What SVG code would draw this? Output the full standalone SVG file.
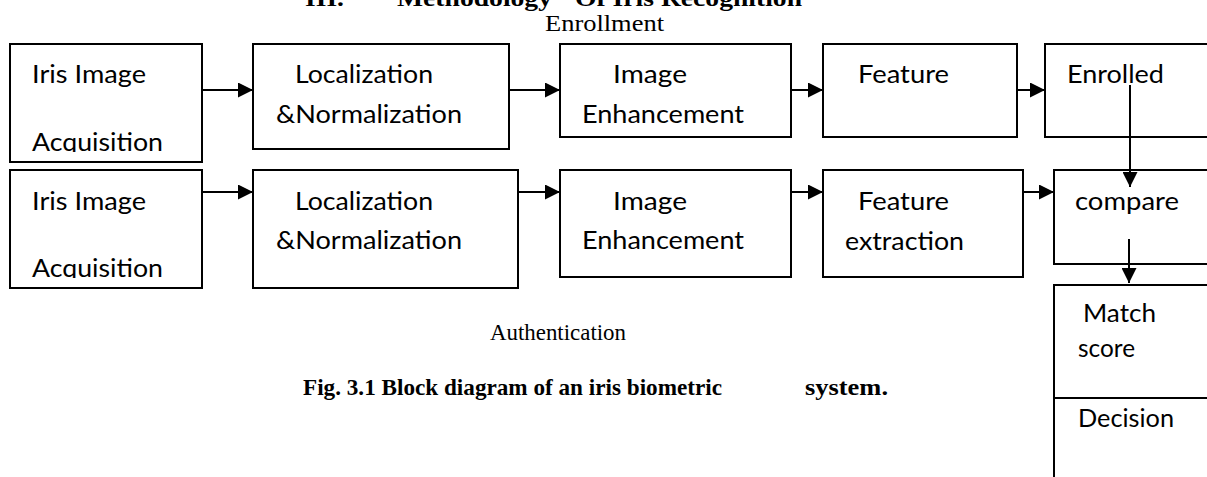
<svg xmlns="http://www.w3.org/2000/svg" width="1207" height="477" viewBox="0 0 1207 477">
<style>
.box{fill:#fff;stroke:#000;stroke-width:2}
.t{font-family:Lato,"Open Sans","Liberation Sans",sans-serif;font-size:25px;fill:#000}
.s{font-family:"Liberation Serif","Times New Roman",serif;font-size:23px;fill:#000}
.b{font-family:"Liberation Serif","Times New Roman",serif;font-size:23px;font-weight:bold;fill:#000}
.c{stroke:#000;stroke-width:2;fill:none}
</style>
<defs>
<marker id="ah" markerUnits="userSpaceOnUse" markerWidth="16" markerHeight="15" refX="15" refY="7.5" orient="auto">
<path d="M0,0 L15,7.5 L0,15 z" fill="#000"/>
</marker>
<clipPath id="clip1"><rect x="0" y="0" width="1207" height="152"/></clipPath>
<clipPath id="clip2"><rect x="0" y="0" width="1207" height="278"/></clipPath>
</defs>
<rect width="1207" height="477" fill="#fff"/>
<g id="title">
<text class="b" x="305" y="6" textLength="39" lengthAdjust="spacingAndGlyphs">III.</text>
<text class="b" x="397" y="6" textLength="155" lengthAdjust="spacingAndGlyphs">Methodology</text>
<text class="b" x="575" y="6" textLength="227" lengthAdjust="spacingAndGlyphs">Of Iris Recognition</text>
</g>
<g id="label-enrollment"><text class="s" x="545" y="31" textLength="119" lengthAdjust="spacingAndGlyphs">Enrollment</text></g>
<g id="label-authentication"><text class="s" x="490" y="340" textLength="136" lengthAdjust="spacingAndGlyphs">Authentication</text></g>
<g id="caption">
<text class="b" x="303" y="395" textLength="419" lengthAdjust="spacingAndGlyphs">Fig. 3.1 Block diagram of an iris biometric</text>
<text class="b" x="805" y="395" textLength="83" lengthAdjust="spacingAndGlyphs">system.</text>
</g>

<g id="e-acq">
<rect class="box" x="10" y="44" width="192" height="118"/>
<text class="t" x="32" y="83" textLength="114" lengthAdjust="spacingAndGlyphs">Iris Image</text>
<text class="t" x="32" y="151" textLength="131" lengthAdjust="spacingAndGlyphs" clip-path="url(#clip1)">Acquisition</text>
</g>
<g id="e-loc">
<rect class="box" x="253" y="44" width="256" height="105"/>
<text class="t" x="295" y="83" textLength="138" lengthAdjust="spacingAndGlyphs">Localization</text>
<text class="t" x="276" y="123" textLength="186" lengthAdjust="spacingAndGlyphs">&amp;Normalization</text>
</g>
<g id="e-enh">
<rect class="box" x="560" y="44" width="231" height="93"/>
<text class="t" x="613" y="83" textLength="74" lengthAdjust="spacingAndGlyphs">Image</text>
<text class="t" x="582" y="123" textLength="162" lengthAdjust="spacingAndGlyphs">Enhancement</text>
</g>
<g id="e-feat">
<rect class="box" x="823" y="44" width="194" height="93"/>
<text class="t" x="858" y="83" textLength="91" lengthAdjust="spacingAndGlyphs">Feature</text>
</g>
<g id="e-enrolled">
<rect class="box" x="1045" y="44" width="180" height="93"/>
<text class="t" x="1067" y="83" textLength="97" lengthAdjust="spacingAndGlyphs">Enrolled</text>
</g>

<g id="a-acq">
<rect class="box" x="10" y="170" width="192" height="118"/>
<text class="t" x="32" y="210" textLength="114" lengthAdjust="spacingAndGlyphs">Iris Image</text>
<text class="t" x="32" y="277" textLength="131" lengthAdjust="spacingAndGlyphs" clip-path="url(#clip2)">Acquisition</text>
</g>
<g id="a-loc">
<rect class="box" x="253" y="170" width="265" height="118"/>
<text class="t" x="295" y="210" textLength="138" lengthAdjust="spacingAndGlyphs">Localization</text>
<text class="t" x="276" y="249" textLength="186" lengthAdjust="spacingAndGlyphs">&amp;Normalization</text>
</g>
<g id="a-enh">
<rect class="box" x="560" y="170" width="231" height="107"/>
<text class="t" x="613" y="210" textLength="74" lengthAdjust="spacingAndGlyphs">Image</text>
<text class="t" x="582" y="249" textLength="162" lengthAdjust="spacingAndGlyphs">Enhancement</text>
</g>
<g id="a-feat">
<rect class="box" x="823" y="170" width="200" height="107"/>
<text class="t" x="858" y="210" textLength="91" lengthAdjust="spacingAndGlyphs">Feature</text>
<text class="t" x="845" y="250" textLength="119" lengthAdjust="spacingAndGlyphs">extraction</text>
</g>
<g id="compare">
<rect class="box" x="1054" y="170" width="170" height="94"/>
<text class="t" x="1075" y="210" textLength="104" lengthAdjust="spacingAndGlyphs">compare</text>
</g>
<g id="match-score">
<rect class="box" x="1054" y="285" width="170" height="113"/>
<text class="t" x="1083" y="322" textLength="73" lengthAdjust="spacingAndGlyphs">Match</text>
<text class="t" x="1078" y="357" textLength="57" lengthAdjust="spacingAndGlyphs">score</text>
</g>
<g id="decision">
<rect class="box" x="1054" y="398" width="170" height="100"/>
<text class="t" x="1078" y="427" textLength="96" lengthAdjust="spacingAndGlyphs">Decision</text>
</g>

<g id="connectors">
<line class="c" x1="202" y1="90" x2="253" y2="90" marker-end="url(#ah)"/>
<line class="c" x1="509" y1="90" x2="560" y2="90" marker-end="url(#ah)"/>
<line class="c" x1="791" y1="90" x2="823" y2="90" marker-end="url(#ah)"/>
<line class="c" x1="1017" y1="90" x2="1045" y2="90" marker-end="url(#ah)"/>
<line class="c" x1="202" y1="192" x2="253" y2="192" marker-end="url(#ah)"/>
<line class="c" x1="518" y1="192" x2="560" y2="192" marker-end="url(#ah)"/>
<line class="c" x1="791" y1="192" x2="823" y2="192" marker-end="url(#ah)"/>
<line class="c" x1="1023" y1="192" x2="1054" y2="192" marker-end="url(#ah)"/>
<line class="c" x1="1130" y1="85" x2="1130" y2="187" marker-end="url(#ah)"/>
<line class="c" x1="1129" y1="239" x2="1129" y2="283" marker-end="url(#ah)"/>
</g>
</svg>
